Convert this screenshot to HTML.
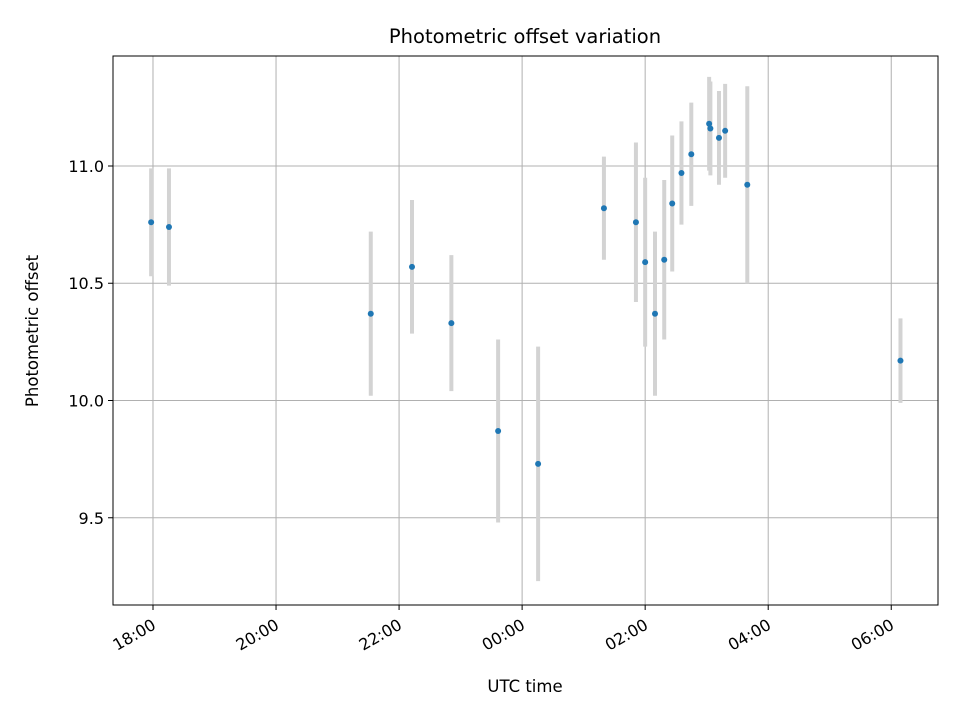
<!DOCTYPE html>
<html><head><meta charset="utf-8"><style>
body{margin:0;background:#fff}
svg{font-family:"DejaVu Sans","Liberation Sans",sans-serif}
</style></head><body>
<svg id="chart" width="960" height="720" xmlns="http://www.w3.org/2000/svg">
<rect width="960" height="720" fill="#fff"/>
<g id="grid"></g><g id="err"></g><g id="pts"></g><g id="ticks"></g>
<rect x="113" y="56" width="825" height="549" fill="none" stroke="#000" stroke-width="1"/>
<text x="525" y="43" text-anchor="middle" font-size="19.5">Photometric offset variation</text>
<text x="525" y="692" text-anchor="middle" font-size="16.5">UTC time</text>
<text transform="translate(38,331) rotate(-90)" text-anchor="middle" font-size="16.5">Photometric offset</text>
</svg>
<script>
// hours since 18:00 UTC
const hours=[-0.03,0.26,3.54,4.21,4.85,5.61,6.26,7.33,7.85,8.00,8.16,8.31,8.44,8.59,8.75,9.04,9.06,9.20,9.30,9.66,12.15];
const offsets=[10.76,10.74,10.37,10.57,10.33,9.87,9.73,10.82,10.76,10.59,10.37,10.60,10.84,10.97,11.05,11.18,11.16,11.12,11.15,10.92,10.17];
const errors=[0.23,0.25,0.35,0.285,0.29,0.39,0.5,0.22,0.34,0.36,0.35,0.34,0.29,0.22,0.22,0.2,0.2,0.2,0.2,0.42,0.18];
const xTicks=[0,2,4,6,8,10,12];
const xTickLabels=["18:00","20:00","22:00","00:00","02:00","04:00","06:00"];
const yTicks=[9.5,10.0,10.5,11.0];
const yTickLabels=["9.5","10.0","10.5","11.0"];
const X0=113,X1=938,Y0=56,Y1=605,xmin=-0.65,xmax=12.76,ymin=9.128,ymax=11.469;
const xs=v=>X0+(v-xmin)/(xmax-xmin)*(X1-X0);
const ys=v=>Y1-(v-ymin)/(ymax-ymin)*(Y1-Y0);
const NS="http://www.w3.org/2000/svg";
function mk(t,a,p){const e=document.createElementNS(NS,t);for(const k in a)e.setAttribute(k,a[k]);document.getElementById(p).appendChild(e);return e;}
xTicks.forEach((t,i)=>{const x=xs(t);
 const g=mk('line',{x1:x,x2:x,y1:Y0,y2:Y1,stroke:'#b0b0b0','stroke-width':1},'grid');
 
 
 const tk=mk('line',{x1:x,x2:x,y1:Y1,y2:Y1+5,stroke:'#000'},'ticks');
 
 
 const l=mk('text',{'text-anchor':'end','font-size':16,transform:`translate(${x+4},${Y1+23}) rotate(-30)`},'ticks');
 l.textContent=xTickLabels[i];
 
 
});
yTicks.forEach((t,i)=>{const y=ys(t);
 const g=mk('line',{x1:X0,x2:X1,y1:y,y2:y,stroke:'#b0b0b0','stroke-width':1},'grid');
 
 
 const tk=mk('line',{x1:X0-5,x2:X0,y1:y,y2:y,stroke:'#000'},'ticks');
 
 
 const l=mk('text',{x:X0-9,y:y+6,'text-anchor':'end','font-size':16},'ticks');
 l.textContent=yTickLabels[i];
 
 
});
hours.forEach((h,i)=>{const x=xs(h);
 const e=mk('line',{x1:x,x2:x,y1:ys(offsets[i]+errors[i]),y2:ys(offsets[i]-errors[i]),stroke:'#d3d3d3','stroke-width':4},'err');
 
 
 const c=mk('circle',{cx:x,cy:ys(offsets[i]),r:3,fill:'#1f77b4'},'pts');
 
 
});
</script>
</body></html>
